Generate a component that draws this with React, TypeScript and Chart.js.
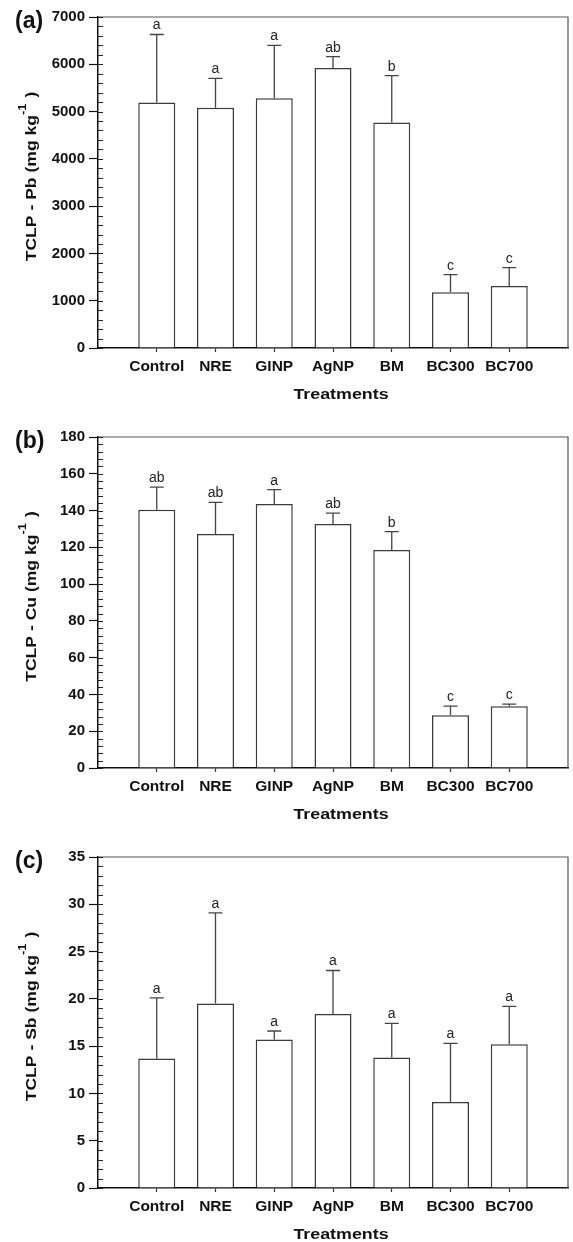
import React, { useEffect, useRef } from 'react';
import { Chart, registerables } from 'chart.js';

Chart.register(...registerables);

// ---------- data ----------
const categories = ['Control', 'NRE', 'GINP', 'AgNP', 'BM', 'BC300', 'BC700'];

const pbMeans = [5190, 5080, 5280, 5920, 4770, 1180, 1310];
const pbErrors = [1440, 620, 1120, 240, 990, 370, 390];
const pbLetters = ['a', 'a', 'a', 'ab', 'b', 'c', 'c'];
const pbAxis = [0, 7000, 1000, 200]; // min, max, major step, minor step

const cuMeans = [140.5, 127.3, 143.5, 132.7, 118.5, 28.7, 33.6];
const cuErrors = [12.2, 17.1, 7.9, 5.9, 10.0, 4.9, 1.1];
const cuLetters = ['ab', 'ab', 'a', 'ab', 'b', 'c', 'c'];
const cuAxis = [0, 180, 20, 4];

const sbMeans = [13.7, 19.5, 15.7, 18.4, 13.8, 9.1, 15.2];
const sbErrors = [6.4, 9.6, 0.9, 4.6, 3.6, 6.2, 4.0];
const sbLetters = ['a', 'a', 'a', 'a', 'a', 'a', 'a'];
const sbAxis = [0, 35, 5, 1];

const panels = [
  { tag: '(a)', element: 'Pb', means: pbMeans, errors: pbErrors, letters: pbLetters, axis: pbAxis },
  { tag: '(b)', element: 'Cu', means: cuMeans, errors: cuErrors, letters: cuLetters, axis: cuAxis },
  { tag: '(c)', element: 'Sb', means: sbMeans, errors: sbErrors, letters: sbLetters, axis: sbAxis },
];

const FONT = '"Liberation Sans", Arial, Helvetica, sans-serif';

const decorPlugin = {
  id: 'panelDecor',
  afterDatasetsDraw(chart: any, _args: any, opts: any) {
    const { ctx, chartArea } = chart;
    const yScale = chart.scales.y;
    const meta = chart.getDatasetMeta(0);
    const { means, errors, letters, axis, tag, element } = opts;

    ctx.save();
    // frame: top & right
    ctx.strokeStyle = '#555';
    ctx.lineWidth = 1.2;
    ctx.beginPath();
    ctx.moveTo(chartArea.left, chartArea.top);
    ctx.lineTo(chartArea.right, chartArea.top);
    ctx.lineTo(chartArea.right, chartArea.bottom);
    ctx.stroke();

    // minor ticks (inward)
    ctx.strokeStyle = '#222';
    ctx.lineWidth = 1;
    const [mn, mx, , minor] = axis;
    const nMinor = Math.round((mx - mn) / minor);
    for (let k = 0; k <= nMinor; k++) {
      const v = mn + k * minor;
      const py = Math.round(yScale.getPixelForValue(v)) + 0.5;
      ctx.beginPath();
      ctx.moveTo(chartArea.left, py);
      ctx.lineTo(chartArea.left + 5, py);
      ctx.stroke();
    }

    // error bars + letters
    ctx.strokeStyle = '#444';
    ctx.lineWidth = 1.3;
    ctx.fillStyle = '#222';
    ctx.font = `14px ${FONT}`;
    ctx.textAlign = 'center';
    ctx.textBaseline = 'alphabetic';
    for (let i = 0; i < means.length; i++) {
      const bar = meta.data[i + 1];
      if (!bar) continue;
      const x = bar.x;
      const yTop = yScale.getPixelForValue(means[i]);
      const yErr = yScale.getPixelForValue(means[i] + errors[i]);
      ctx.beginPath();
      ctx.moveTo(x, yTop);
      ctx.lineTo(x, yErr);
      ctx.moveTo(x - 7, yErr);
      ctx.lineTo(x + 7, yErr);
      ctx.stroke();
      ctx.fillText(letters[i], x, yErr - 5);
    }

    // panel tag
    ctx.fillStyle = '#111';
    ctx.textAlign = 'left';
    ctx.font = `bold 23px ${FONT}`;
    ctx.fillText(tag, 15, 28);

    // y title with superscript, stretched along text
    const stretch = 1.17;
    const mainFont = `bold 15px ${FONT}`;
    const supFont = `bold 11px ${FONT}`;
    const t1 = `TCLP - ${element} (mg kg`;
    const t2 = '-1';
    const t3 = ' )';
    ctx.font = mainFont;
    const w1 = ctx.measureText(t1).width;
    const w3 = ctx.measureText(t3).width;
    ctx.font = supFont;
    const w2 = ctx.measureText(t2).width + 1;
    const total = w1 + w2 + w3;
    const cy = (chartArea.top + chartArea.bottom) / 2 - 6;
    ctx.translate(35.5, cy);
    ctx.rotate(-Math.PI / 2);
    ctx.scale(stretch, 1);
    let sx = -total / 2;
    ctx.font = mainFont;
    ctx.fillText(t1, sx, 0);
    sx += w1;
    ctx.font = supFont;
    ctx.fillText(t2, sx, -10);
    sx += w2;
    ctx.font = mainFont;
    ctx.fillText(t3, sx, 0);
    ctx.restore();

    // x title
    ctx.save();
    ctx.fillStyle = '#111';
    ctx.font = `bold 15px ${FONT}`;
    ctx.textAlign = 'center';
    ctx.textBaseline = 'alphabetic';
    ctx.translate(341, chartArea.bottom + 51);
    ctx.scale(1.19, 1);
    ctx.fillText('Treatments', 0, 0);
    ctx.restore();
  },
};

function Panel({ p }: { p: any }) {
  const ref = useRef<HTMLCanvasElement | null>(null);
  useEffect(() => {
    if (!ref.current) return;
    const labels = ['', ...categories, ''];
    const chart = new Chart(ref.current, {
      type: 'bar',
      data: {
        labels,
        datasets: [
          {
            data: [null, ...p.means, null],
            backgroundColor: '#ffffff',
            borderColor: '#3a3a3a',
            borderWidth: 1.5,
            barPercentage: 0.63,
            categoryPercentage: 1,
          },
        ],
      },
      options: {
        responsive: false,
        animation: false,
        devicePixelRatio: 1,
        layout: { padding: { left: 0, right: 4, top: 17, bottom: 0 } },
        plugins: {
          legend: { display: false },
          tooltip: { enabled: false },
          panelDecor: p,
        } as any,
        scales: {
          x: {
            offset: false,
            grid: {
              offset: false,
              drawOnChartArea: false,
              tickLength: 4,
              tickColor: (c: any) => (c.index === 0 || c.index === labels.length - 1 ? 'rgba(0,0,0,0)' : '#333'),
              tickWidth: 1.2,
            },
            border: { color: '#111', width: 1.5 },
            ticks: {
              autoSkip: false,
              maxRotation: 0,
              minRotation: 0,
              padding: 5,
              color: '#111',
              font: { family: FONT, size: 15.5, weight: 'bold' },
            },
            afterFit: (s: any) => {
              s.height = 72;
            },
          },
          y: {
            min: p.axis[0],
            max: p.axis[1],
            grid: {
              drawOnChartArea: false,
              tickLength: 9,
              tickColor: '#111',
              tickWidth: 1.2,
            },
            border: { color: '#111', width: 1.5 },
            ticks: {
              stepSize: p.axis[2],
              padding: 4,
              color: '#111',
              font: { family: FONT, size: 15, weight: 'bold' },
              callback: (v: any) => String(v),
            },
            afterFit: (s: any) => {
              s.width = 98;
            },
          },
        },
      } as any,
      plugins: [decorPlugin],
    });
    return () => chart.destroy();
  }, [p]);
  return <canvas ref={ref} width={573} height={420} style={{ display: 'block' }} />;
}

export default function App() {
  useEffect(() => {
    document.body.style.margin = '0';
  }, []);
  return (
    <div style={{ width: 573, height: 1242, overflow: 'hidden', background: '#fff' }}>
      {panels.map((p) => (
        <Panel key={p.tag} p={p} />
      ))}
    </div>
  );
}
